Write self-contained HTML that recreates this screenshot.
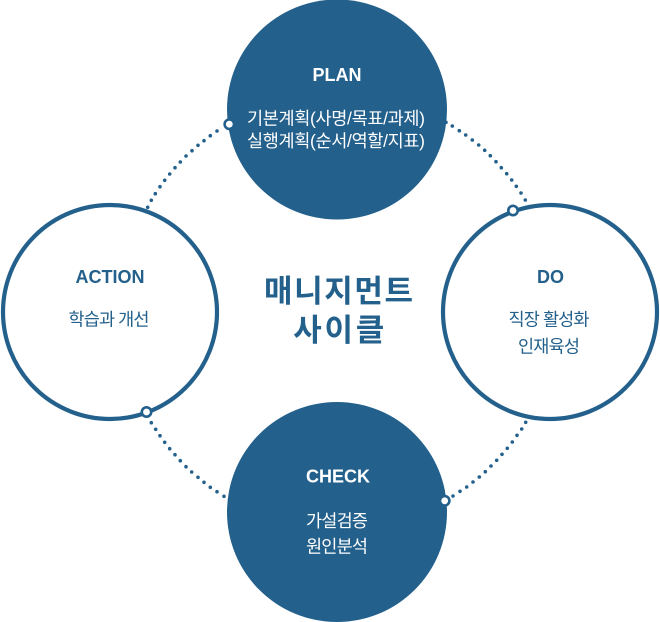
<!DOCTYPE html>
<html>
<head>
<meta charset="utf-8">
<style>
  html, body { margin: 0; padding: 0; background: #ffffff; }
  body { width: 660px; height: 622px; overflow: hidden; }
  svg { display: block; }
  .t { font-family: "Liberation Sans", "Noto Sans CJK KR", sans-serif; font-weight: bold; font-size: 18px; text-anchor: middle; }
  .b { font-family: "Liberation Sans", "Noto Sans CJK KR", sans-serif; font-size: 17.5px; text-anchor: middle; }
  .c { font-family: "Liberation Sans", "Noto Sans CJK KR", sans-serif; font-weight: bold; font-size: 31px; text-anchor: middle; }
</style>
</head>
<body>
<svg width="660" height="622" viewBox="0 0 660 622" xmlns="http://www.w3.org/2000/svg">
  <g fill="#23608c">
    <!-- upper-left arc -->
    <circle cx="217" cy="131" r="1.8"/><circle cx="210.3" cy="135.7" r="1.8"/><circle cx="204" cy="140.7" r="1.8"/>
    <circle cx="198" cy="145.3" r="1.8"/><circle cx="192" cy="150.7" r="1.8"/><circle cx="186" cy="156" r="1.8"/>
    <circle cx="180.3" cy="162" r="1.8"/><circle cx="175" cy="167.7" r="1.8"/><circle cx="169.7" cy="174" r="1.8"/>
    <circle cx="164.7" cy="180.3" r="1.8"/><circle cx="160" cy="186.7" r="1.8"/><circle cx="155.3" cy="193.7" r="1.8"/>
    <circle cx="151.3" cy="200.3" r="1.8"/><circle cx="147.7" cy="207.3" r="1.8"/>
    <!-- upper-right arc -->
    <circle cx="446" cy="122.3" r="1.8"/>
    <circle cx="452.3" cy="126" r="1.8"/><circle cx="459.3" cy="130.7" r="1.8"/><circle cx="465.7" cy="135" r="1.8"/>
    <circle cx="472.3" cy="140" r="1.8"/><circle cx="478.7" cy="145" r="1.8"/><circle cx="484.7" cy="150.3" r="1.8"/>
    <circle cx="490.3" cy="155.7" r="1.8"/><circle cx="496" cy="161.7" r="1.8"/><circle cx="501.3" cy="167.7" r="1.8"/>
    <circle cx="506.7" cy="173.7" r="1.8"/><circle cx="511.7" cy="180" r="1.8"/><circle cx="516.3" cy="186.3" r="1.8"/>
    <circle cx="521" cy="193" r="1.8"/><circle cx="525.3" cy="200" r="1.8"/>
    <!-- lower-left arc -->
    <circle cx="151.3" cy="422.7" r="1.8"/><circle cx="155.7" cy="429.3" r="1.8"/><circle cx="160" cy="435.7" r="1.8"/>
    <circle cx="164.7" cy="442.3" r="1.8"/><circle cx="169.7" cy="448.7" r="1.8"/><circle cx="175" cy="454.7" r="1.8"/>
    <circle cx="180.3" cy="460.7" r="1.8"/><circle cx="186" cy="466.7" r="1.8"/><circle cx="191.7" cy="472" r="1.8"/>
    <circle cx="198" cy="477.3" r="1.8"/><circle cx="204" cy="482.3" r="1.8"/><circle cx="210.3" cy="487.3" r="1.8"/>
    <circle cx="217" cy="491.7" r="1.8"/><circle cx="224" cy="496.3" r="1.8"/>
    <!-- lower-right arc -->
    <circle cx="453" cy="496" r="1.8"/><circle cx="460" cy="491.3" r="1.8"/><circle cx="466.7" cy="487" r="1.8"/>
    <circle cx="473" cy="482" r="1.8"/><circle cx="479.3" cy="477" r="1.8"/><circle cx="485.3" cy="471.7" r="1.8"/>
    <circle cx="491" cy="466" r="1.8"/><circle cx="496.7" cy="460.3" r="1.8"/><circle cx="502" cy="454.3" r="1.8"/>
    <circle cx="507.3" cy="448.3" r="1.8"/><circle cx="512.3" cy="442" r="1.8"/><circle cx="517" cy="435.3" r="1.8"/>
    <circle cx="521.7" cy="429" r="1.8"/><circle cx="525.7" cy="422.3" r="1.8"/>
  </g>

  <!-- PLAN (filled) -->
  <circle cx="337" cy="109.5" r="110" fill="#23608c"/>
  <!-- CHECK (filled) -->
  <circle cx="337" cy="512" r="110" fill="#23608c"/>
  <!-- ACTION (ring) -->
  <circle cx="110" cy="312" r="107" fill="none" stroke="#23608c" stroke-width="4.2"/>
  <!-- DO (ring) -->
  <circle cx="550" cy="312" r="107" fill="none" stroke="#23608c" stroke-width="4.2"/>

  <!-- connectors -->
  <g fill="#ffffff" stroke="#23608c" stroke-width="2.6">
    <circle cx="229.3" cy="124.2" r="4.7"/>
    <circle cx="513" cy="210.5" r="4.7"/>
    <circle cx="146.5" cy="412" r="4.7"/>
    <circle cx="444.7" cy="500.8" r="4.7"/>
  </g>

  <!-- PLAN text -->
  <text class="t" x="337" y="81" fill="#ffffff">PLAN</text>
  <text class="b" x="336" y="124.5" fill="#ffffff" textLength="178" lengthAdjust="spacing">기본계획(사명/목표/과제)</text>
  <text class="b" x="336" y="147" fill="#ffffff" textLength="178" lengthAdjust="spacing">실행계획(순서/역할/지표)</text>

  <!-- ACTION text -->
  <text class="t" x="110" y="283" fill="#23608c">ACTION</text>
  <text class="b" x="109" y="325.5" fill="#23608c" textLength="81" lengthAdjust="spacing">학습과 개선</text>

  <!-- DO text -->
  <text class="t" x="550.5" y="283" fill="#23608c">DO</text>
  <text class="b" x="549" y="325.5" fill="#23608c" textLength="81" lengthAdjust="spacing">직장 활성화</text>
  <text class="b" x="549" y="352.5" fill="#23608c" textLength="62" lengthAdjust="spacing">인재육성</text>

  <!-- CHECK text -->
  <text class="t" x="338" y="482.5" fill="#ffffff">CHECK</text>
  <text class="b" x="337" y="527" fill="#ffffff" textLength="62" lengthAdjust="spacing">가설검증</text>
  <text class="b" x="337" y="552.5" fill="#ffffff" textLength="62" lengthAdjust="spacing">원인분석</text>

  <!-- center title -->
  <text class="c" x="338.5" y="302" fill="#23608c" textLength="149" lengthAdjust="spacing">매니지먼트</text>
  <text class="c" x="338.8" y="341" fill="#23608c" textLength="91" lengthAdjust="spacing">사이클</text>
</svg>
</body>
</html>
